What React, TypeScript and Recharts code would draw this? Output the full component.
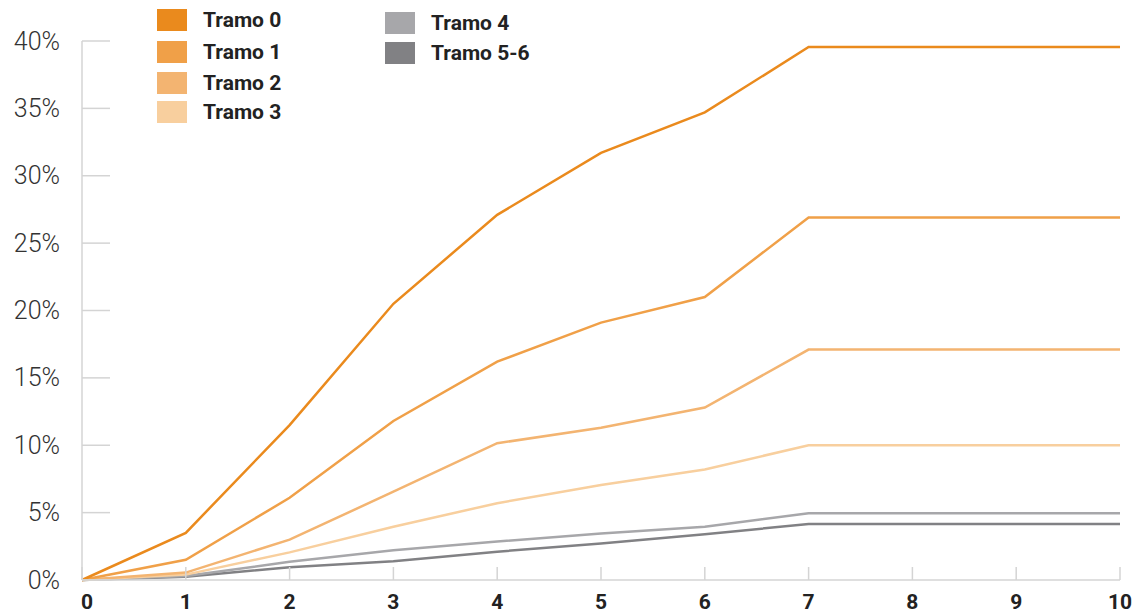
import React from "react";
import { LineChart, Line, XAxis, YAxis, Legend } from "recharts";

const steps = [0, 1, 2, 3, 4, 5, 6, 7, 8, 9, 10];
const tramo0 = [0, 3.5, 11.5, 20.5, 27.1, 31.7, 34.7, 39.55, 39.55, 39.55, 39.55];
const tramo1 = [0, 1.5, 6.1, 11.8, 16.2, 19.1, 21.0, 26.9, 26.9, 26.9, 26.9];
const tramo2 = [0, 0.55, 3.0, 6.55, 10.15, 11.3, 12.8, 17.1, 17.1, 17.1, 17.1];
const tramo3 = [0, 0.4, 2.05, 3.95, 5.7, 7.05, 8.2, 10.0, 10.0, 10.0, 10.0];
const tramo4 = [0, 0.3, 1.35, 2.2, 2.85, 3.45, 3.95, 4.95, 4.95, 4.95, 4.95];
const tramo56 = [0, 0.25, 0.95, 1.4, 2.1, 2.7, 3.4, 4.15, 4.15, 4.15, 4.15];

const yTicks = [0, 5, 10, 15, 20, 25, 30, 35, 40];

interface SeriesItem {
  key: string;
  name: string;
  color: string;
  values: number[];
}

const series: SeriesItem[] = [
  { key: "t56", name: "Tramo 5-6", color: "#818184", values: tramo56 },
  { key: "t4", name: "Tramo 4", color: "#a7a7aa", values: tramo4 },
  { key: "t3", name: "Tramo 3", color: "#f8cf9e", values: tramo3 },
  { key: "t2", name: "Tramo 2", color: "#f3b471", values: tramo2 },
  { key: "t1", name: "Tramo 1", color: "#f0a048", values: tramo1 },
  { key: "t0", name: "Tramo 0", color: "#ea8a1d", values: tramo0 },
];

const chartData = steps.map((s, i) => {
  const row: Record<string, number> = { x: s };
  for (const item of series) {
    row[item.key] = item.values[i];
  }
  return row;
});

const AXIS_COLOR = "#d4d4d4";

const YTick = (props: any) => {
  const { x, y, payload } = props;
  return (
    <g>
      <line x1={x} y1={y} x2={x + 28} y2={y} stroke={AXIS_COLOR} strokeWidth={1.5} />
      <text
        x={x - 22}
        y={y}
        textAnchor="end"
        dominantBaseline="central"
        fontFamily="Roboto, 'Liberation Sans', sans-serif"
        fontWeight={300}
        fontSize={25}
        fill="#333"
      >
        {payload.value}%
      </text>
    </g>
  );
};

const XTick = (props: any) => {
  const { x, y, payload } = props;
  // the first label sits to the right of the axis
  const isFirst = payload.value === 0;
  return (
    <g>
      <line x1={x} y1={y - 13} x2={x} y2={y} stroke={AXIS_COLOR} strokeWidth={1.5} />
      <text
        x={isFirst ? x - 1 : x}
        y={y + 22}
        textAnchor={isFirst ? "start" : "middle"}
        dominantBaseline="central"
        fontFamily="Roboto, 'Liberation Sans', sans-serif"
        fontWeight={700}
        fontSize={21}
        fill="#222"
      >
        {payload.value}
      </text>
    </g>
  );
};

const legendCols = [
  [
    { name: "Tramo 0", color: "#ea8a1d", top: 9 },
    { name: "Tramo 1", color: "#f0a048", top: 41 },
    { name: "Tramo 2", color: "#f3b471", top: 72 },
    { name: "Tramo 3", color: "#f8cf9e", top: 101 },
  ],
  [
    { name: "Tramo 4", color: "#a7a7aa", top: 12 },
    { name: "Tramo 5-6", color: "#818184", top: 42 },
  ],
];

const renderLegend = () => (
  <div style={{ position: "relative", width: 560, height: 130 }}>
    {legendCols.map((col, ci) =>
      col.map((item) => (
        <div
          key={item.name}
          style={{
            position: "absolute",
            left: ci === 0 ? 157 : 385,
            top: item.top,
            display: "flex",
            alignItems: "center",
            height: 22,
          }}
        >
          <div style={{ width: 30, height: 22, background: item.color }} />
          <span
            style={{
              marginLeft: 16,
              fontFamily: "Roboto, 'Liberation Sans', sans-serif",
              fontWeight: 700,
              fontSize: 21,
              color: "#222",
              whiteSpace: "nowrap",
            }}
          >
            {item.name}
          </span>
        </div>
      ))
    )}
  </div>
);

export default function App() {
  return (
    <div style={{ position: "absolute", left: 0, top: 0, background: "#fff" }}>
      <LineChart
        width={1137}
        height={614}
        data={chartData}
        margin={{ top: 41, right: 17, bottom: 0, left: 0 }}
      >
        <XAxis
          dataKey="x"
          type="number"
          domain={[0, 10]}
          ticks={steps}
          interval={0}
          height={34}
          tickSize={0}
          tickMargin={0}
          tickLine={false}
          axisLine={{ stroke: AXIS_COLOR, strokeWidth: 1.5 }}
          tick={<XTick />}
        />
        <YAxis
          type="number"
          domain={[0, 40]}
          ticks={yTicks}
          width={82}
          tickSize={0}
          tickMargin={0}
          tickLine={false}
          axisLine={{ stroke: AXIS_COLOR, strokeWidth: 1.5 }}
          tick={<YTick />}
        />
        <Legend
          layout="vertical"
          align="center"
          verticalAlign="middle"
          content={renderLegend}
          wrapperStyle={{ top: 0, left: 0, width: 560, height: 130 }}
        />
        {series.map((item) => (
          <Line
            key={item.key}
            dataKey={item.key}
            name={item.name}
            type="linear"
            stroke={item.color}
            strokeWidth={2.5}
            dot={false}
            activeDot={false}
            isAnimationActive={false}
          />
        ))}
      </LineChart>
    </div>
  );
}
